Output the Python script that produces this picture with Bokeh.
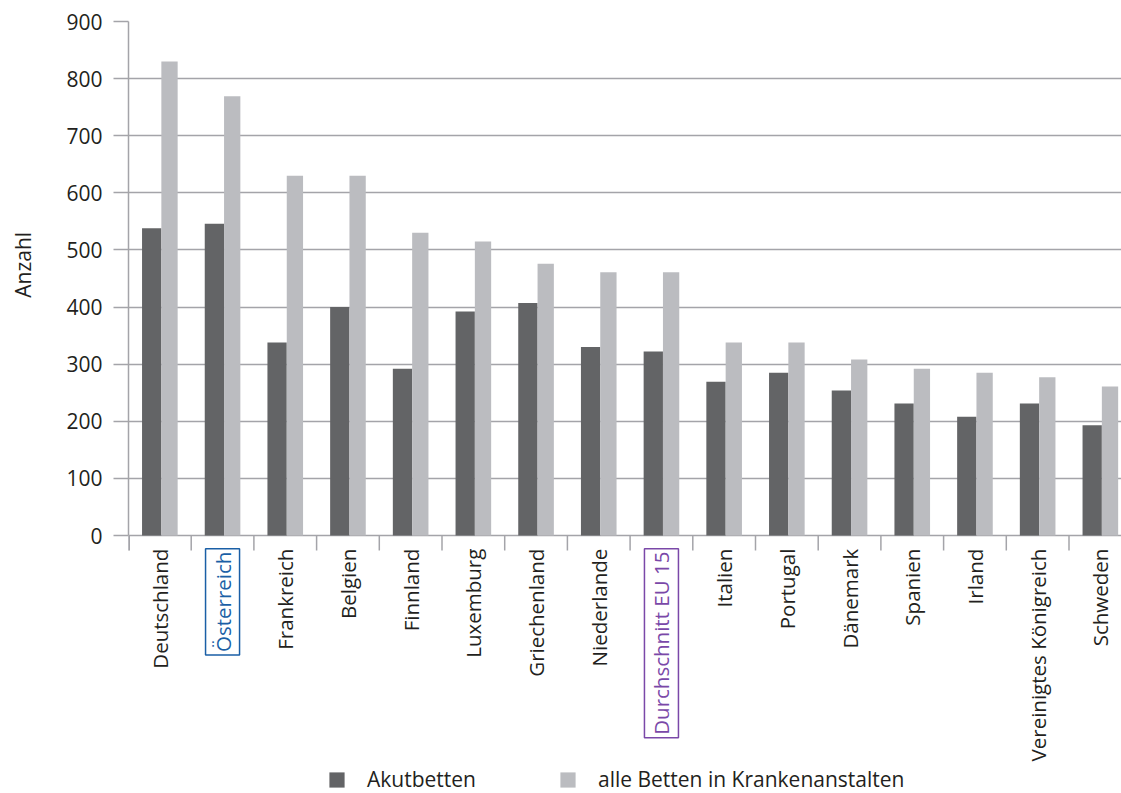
import math

from bokeh.core.properties import value
from bokeh.embed import file_html
from bokeh.layouts import row
from bokeh.models import (ColumnDataSource, FixedTicker, Label, Legend,
                          LegendItem, Range1d)
from bokeh.plotting import figure
from bokeh.resources import INLINE

# Betten je 100.000 Einwohner
countries = [
    "Deutschland", "Österreich", "Frankreich", "Belgien", "Finnland",
    "Luxemburg", "Griechenland", "Niederlande", "Durchschnitt EU 15",
    "Italien", "Portugal", "Dänemark", "Spanien", "Irland",
    "Vereinigtes Königreich", "Schweden",
]
akutbetten = [538, 546, 338, 400, 292, 392, 407, 330, 322,
              269, 285, 254, 231, 208, 231, 193]
alle_betten = [830, 769, 630, 630, 530, 515, 476, 461, 461,
               338, 338, 308, 292, 285, 277, 261]
y_ticks = [0, 100, 200, 300, 400, 500, 600, 700, 800, 900]
y_title = "Anzahl"
series_names = ["Akutbetten", "alle Betten in Krankenanstalten"]
highlight = {"Österreich": "#1a5fa6", "Durchschnitt EU 15": "#7a48a8"}

FONT = "Open Sans"
TEXT = "#231f20"
GRID = "#a4a4a9"
DARK = "#636466"
LIGHT = "#bbbcc0"

W, H = 1121, 793
TITLE_W = 44                            # strip holding the y title
LEFT, TOP, ZERO = 128, 21, 535          # frame left, top gridline, baseline (px)
PX_PER_UNIT = (ZERO - TOP) / y_ticks[-1]
Y_MIN = -(H - ZERO) / PX_PER_UNIT       # room below the baseline for the names
SLOT_PX = 62.7                          # width of one category slot

y_range = Range1d(Y_MIN, y_ticks[-1])

p = figure(
    width=W - TITLE_W, height=H,
    output_backend="svg", toolbar_location=None,
    x_range=Range1d(0, (W - LEFT) / SLOT_PX),
    y_range=y_range,
    min_border_left=LEFT - TITLE_W, min_border_right=0,
    min_border_top=TOP, min_border_bottom=0,
)
p.outline_line_color = None
p.background_fill_color = "white"
p.border_fill_color = "white"
p.xaxis.visible = False

# bar geometry: pair of bars inside each category slot
n = len(countries)
centers = [i + 0.5 for i in range(n)]
dark_src = ColumnDataSource(dict(
    left=[c - 0.284 for c in centers],
    right=[c + 0.024 for c in centers],
    top=akutbetten,
    bottom=[0] * n,
))
light_src = ColumnDataSource(dict(
    left=[c + 0.024 for c in centers],
    right=[c + 0.284 for c in centers],
    top=alle_betten,
    bottom=[0] * n,
))
r_dark = p.quad(left="left", right="right", top="top", bottom="bottom",
                source=dark_src, fill_color=DARK, line_color=None)
r_light = p.quad(left="left", right="right", top="top", bottom="bottom",
                 source=light_src, fill_color=LIGHT, line_color=None)

# horizontal grid
p.xgrid.visible = False
p.ygrid.ticker = FixedTicker(ticks=y_ticks)
p.ygrid.grid_line_color = GRID
p.ygrid.grid_line_width = 1.5

# y axis
yax = p.yaxis[0]
yax.bounds = (y_ticks[0], y_ticks[-1])
yax.ticker = FixedTicker(ticks=y_ticks)
yax.axis_line_color = GRID
yax.axis_line_width = 1.5
yax.major_tick_line_color = GRID
yax.major_tick_line_width = 1.5
yax.major_tick_out = 15
yax.major_tick_in = 0
yax.minor_tick_line_color = None
yax.major_label_standoff = 11
yax.major_label_text_font = FONT
yax.major_label_text_font_size = "21px"
yax.major_label_text_color = TEXT

# separator ticks between the category slots, hanging below the baseline
tick_len = 15 / PX_PER_UNIT
bounds = list(range(n + 1))
p.segment(x0=bounds, y0=[0] * (n + 1), x1=bounds, y1=[-tick_len] * (n + 1),
          line_color=GRID, line_width=1.5)
p.segment(x0=[0], y0=[0], x1=[0], y1=[-tick_len], line_color=GRID, line_width=3)

# category names, read bottom to top
for c, name in zip(centers, countries):
    color = highlight.get(name)
    lbl = Label(
        x=c, y=-23, text=name, angle=math.pi / 2,
        text_align="right", text_baseline="middle",
        text_font=FONT, text_font_size="20.5px",
        text_color=color if color else TEXT,
    )
    if color:
        lbl.border_line_color = color
        lbl.border_line_width = 1.5
        lbl.padding = 3
    p.add_layout(lbl)

legend = Legend(
    items=[LegendItem(label=series_names[0], renderers=[r_dark]),
           LegendItem(label=series_names[1], renderers=[r_light])],
    orientation="horizontal",
    location=(199, 0),
    glyph_width=19, glyph_height=19,
    label_standoff=21, spacing=82,
    padding=0, margin=0,
    border_line_color=None, background_fill_alpha=0,
    label_text_font=FONT, label_text_font_size="21px",
    label_text_color=TEXT,
)
p.add_layout(legend)

# narrow strip on the left carrying the y title, sharing the value scale
t = figure(
    width=TITLE_W, height=H,
    output_backend="svg", toolbar_location=None,
    x_range=Range1d(0, TITLE_W), y_range=y_range,
    x_axis_type=None, y_axis_type=None,
    min_border_left=0, min_border_right=0,
    min_border_top=TOP, min_border_bottom=0,
)
t.outline_line_color = None
t.xgrid.visible = False
t.ygrid.visible = False
t.text(x=[22], y=[474], text=[y_title], angle=math.pi / 2,
       text_align="center", text_baseline="middle",
       text_font=value(FONT), text_font_size="21px", text_color=TEXT)

layout = row(t, p, spacing=0)
open("out.html", "w").write(file_html(layout, INLINE))
